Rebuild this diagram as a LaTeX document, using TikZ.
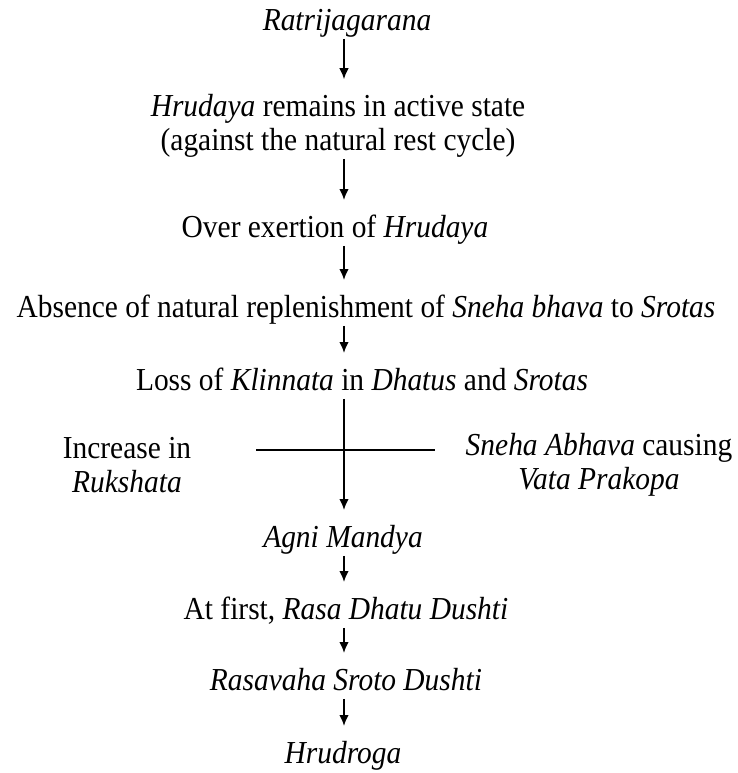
\documentclass[tikz,border=0pt]{standalone}
\usepackage{fontspec}
\setmainfont{Liberation Serif}[FakeStretch=0.92]
\usetikzlibrary{arrows.meta}

\begin{document}
\begin{tikzpicture}[x=1pt, y=-1pt, >={Latex[length=11pt,width=9.5pt]},
		stage/.style={inner sep=0pt, text height=22pt, text depth=7.5pt, font=\fontsize{32}{34}\selectfont},
		twoline/.style={inner sep=0pt, align=center, font=\fontsize{32}{34}\selectfont},
		flow/.style={line width=1.8pt, shorten <=1pt, shorten >=15pt},
		bar/.style={line width=1.8pt}]
		\useasboundingbox (0,0) rectangle (737,773);
		\coordinate (axis) at (344,0);
		\node[stage] (rj) at (347,23) {\textit{Ratrijagarana}};
		\node[twoline] (hact) at (338,126) {\textit{Hrudaya} remains in active state\\(against the natural rest cycle)};
		\node[stage] (over) at (335,230) {Over exertion of \textit{Hrudaya}};
		\node[stage] (abs) at (366,310) {Absence of natural replenishment of \textit{Sneha bhava} to \textit{Srotas}};
		\node[stage] (loss) at (362,383) {Loss of \textit{Klinnata} in \textit{Dhatus} and \textit{Srotas}};
		\node[twoline] (incr) at (127,465) {Increase in\\\textit{Rukshata}};
		\node[twoline] (sneha) at (599,465) {\textit{Sneha Abhava} causing\\\textit{Vata Prakopa}};
		\node[stage] (agni) at (343,540) {\textit{Agni Mandya}};
		\node[stage] (rasa) at (346,612) {At first, \textit{Rasa Dhatu Dushti}};
		\node[stage] (srot) at (346,683) {\textit{Rasavaha Sroto Dushti}};
		\node[stage] (hrud) at (343,756) {\textit{Hrudroga}};
		\coordinate (hl) at (256,450);
		\coordinate (hr) at (435,450);
		
		\draw[bar] (hl) -- (hr);
		\path (rj.south -| axis) edge[flow, ->] (hact.north -| axis);
		\path (hact.south -| axis) edge[flow, ->] (over.north -| axis);
		\path (over.south -| axis) edge[flow, ->] (abs.north -| axis);
		\path (abs.south -| axis) edge[flow, ->] (loss.north -| axis);
		\path (loss.south -| axis) edge[flow, ->] (agni.north -| axis);
		\path (agni.south -| axis) edge[flow, ->] (rasa.north -| axis);
		\path (rasa.south -| axis) edge[flow, ->] (srot.north -| axis);
		\path (srot.south -| axis) edge[flow, ->] (hrud.north -| axis);
		
	\end{tikzpicture}
\end{document}
